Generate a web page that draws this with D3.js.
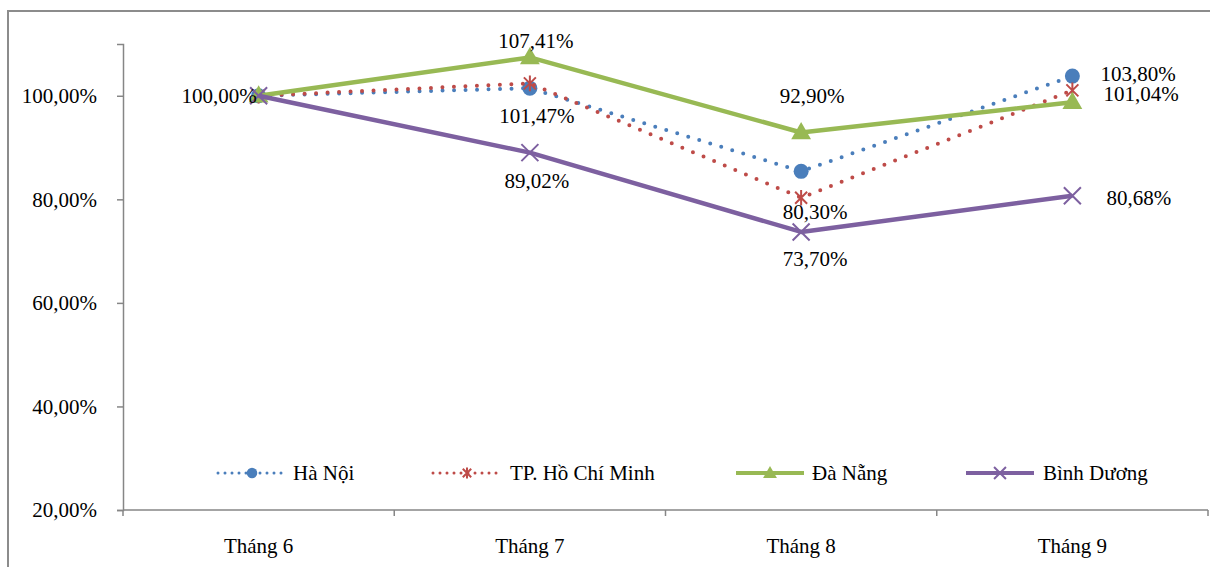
<!DOCTYPE html>
<html>
<head>
<meta charset="utf-8">
<script src="https://cdn.jsdelivr.net/npm/d3@7/dist/d3.min.js"></script>
<style>
  html, body { margin: 0; padding: 0; background: #fff; }
  svg { display: block; }
  text { font-family: "Liberation Serif", "Times New Roman", serif; fill: #000; }
</style>
</head>
<body>
<svg id="chart" width="1210" height="567"></svg>
<script>
// Months on the x axis
const months = ["Tháng 6", "Tháng 7", "Tháng 8", "Tháng 9"];

// Index values (%) per city
const haNoi     = [100.00, 101.47, 85.40, 103.80];
const tpHCM     = [100.00, 102.40, 80.30, 101.04];
const daNang    = [100.00, 107.41, 92.90, 98.75];
const binhDuong = [100.00, 89.02, 73.70, 80.68];

const seriesNames = ["Hà Nội", "TP. Hồ Chí Minh", "Đà Nẵng", "Bình Dương"];
const yTicks = [20, 40, 60, 80, 100];

const series = [
  { name: seriesNames[0], values: haNoi,     color: "#4a7ebb", dotted: true,  marker: "circle" },
  { name: seriesNames[1], values: tpHCM,     color: "#be4b48", dotted: true,  marker: "star" },
  { name: seriesNames[2], values: daNang,    color: "#98b954", dotted: false, marker: "triangle" },
  { name: seriesNames[3], values: binhDuong, color: "#7d60a0", dotted: false, marker: "cross" }
];

// Points that carry a value label; anchor and offset (px) from the point to the text baseline
const labels = [
  { s: 0, i: 0, anchor: "end",    dx: -2, dy: 7 },
  { s: 2, i: 1, anchor: "middle", dx: 6,  dy: -9 },
  { s: 0, i: 1, anchor: "middle", dx: 7,  dy: 35 },
  { s: 3, i: 1, anchor: "middle", dx: 7,  dy: 35.5 },
  { s: 2, i: 2, anchor: "middle", dx: 11, dy: -30 },
  { s: 1, i: 2, anchor: "middle", dx: 14, dy: 21 },
  { s: 3, i: 2, anchor: "middle", dx: 14, dy: 34 },
  { s: 0, i: 3, anchor: "start",  dx: 28, dy: 4.5 },
  { s: 1, i: 3, anchor: "start",  dx: 31, dy: 11 },
  { s: 3, i: 3, anchor: "start",  dx: 34, dy: 9 }
];

const locale = d3.formatLocale({ decimal: ",", thousands: ".", grouping: [3], currency: ["", ""] });
const pct = v => locale.format(".2f")(v) + "%";

const svg = d3.select("#chart");
const plot = { left: 123, right: 1208, top: 44, bottom: 510 };

// Outer chart frame
svg.append("rect")
  .attr("x", 8).attr("y", 11).attr("width", 1220).attr("height", 600)
  .attr("fill", "none").attr("stroke", "#8c8c8c").attr("stroke-width", 2);

const x = d3.scaleBand().domain(months).range([plot.left, plot.right]);
const y = d3.scaleLinear().domain([20, 110]).range([plot.bottom, plot.top]);
const cx = m => x(m) + x.bandwidth() / 2;

// Y axis
const yAxis = svg.append("g").attr("transform", `translate(${plot.left},0)`)
  .call(d3.axisLeft(y).tickValues(yTicks).tickSize(6).tickPadding(20).tickFormat(pct));
yAxis.attr("font-family", null);
yAxis.select(".domain").attr("stroke", "#868686").attr("stroke-width", 1.5);
yAxis.selectAll(".tick line").attr("stroke", "#868686").attr("stroke-width", 1.5);
yAxis.selectAll(".tick text").attr("font-size", 21);

// X axis: ticks sit between categories
const xAxisG = svg.append("g").attr("transform", `translate(0,${plot.bottom})`);
xAxisG.append("line").attr("x1", plot.left).attr("x2", plot.right)
  .attr("stroke", "#868686").attr("stroke-width", 1.5);
const boundaries = months.map(m => x(m)).concat([plot.right]);
xAxisG.selectAll("line.tk").data(boundaries).join("line").attr("class", "tk")
  .attr("x1", d => d).attr("x2", d => d).attr("y1", 0).attr("y2", 6)
  .attr("stroke", "#868686").attr("stroke-width", 1.5);
xAxisG.selectAll("text").data(months).join("text")
  .attr("x", d => cx(d)).attr("y", 43)
  .attr("text-anchor", "middle").attr("font-size", 21)
  .text(d => d);

// Marker drawing
function drawMarker(g, type, color, big) {
  const k = big ? 1 : 0.7;
  if (type === "circle") {
    g.append("circle").attr("r", 7.5 * k).attr("fill", color);
  } else if (type === "triangle") {
    g.append("path").attr("d", d3.symbol(d3.symbolTriangle, 170 * k * k)()).attr("fill", color)
      .attr("transform", "translate(0,1)");
  } else if (type === "cross") {
    const s = 8.5 * k;
    g.append("path").attr("d", `M${-s},${-s}L${s},${s}M${-s},${s}L${s},${-s}`)
      .attr("stroke", color).attr("stroke-width", 2).attr("fill", "none");
  } else if (type === "star") {
    const s = 6 * k;
    g.append("path")
      .attr("d", `M${-s},${-s}L${s},${s}M${-s},${s}L${s},${-s}M0,${-s * 1.3}L0,${s * 1.3}`)
      .attr("stroke", color).attr("stroke-width", 2).attr("fill", "none");
  }
}

const line = d3.line().x((d, i) => cx(months[i])).y(d => y(d));

series.forEach(s => {
  svg.append("path").datum(s.values)
    .attr("d", line).attr("fill", "none")
    .attr("stroke", s.color)
    .attr("stroke-width", s.dotted ? 4 : 4.5)
    .attr("stroke-linecap", s.dotted ? "round" : "butt")
    .attr("stroke-linejoin", "round")
    .attr("stroke-dasharray", s.dotted ? "0 11.5" : null);
  s.values.forEach((v, i) => {
    const g = svg.append("g").attr("transform", `translate(${cx(months[i])},${y(v)})`);
    drawMarker(g, s.marker, s.color, true);
  });
});

// Value labels
labels.forEach(l => {
  const v = series[l.s].values[l.i];
  svg.append("text")
    .attr("x", cx(months[l.i]) + l.dx)
    .attr("y", y(v) + l.dy)
    .attr("text-anchor", l.anchor)
    .attr("font-size", 21)
    .text(pct(v));
});

// Legend
const legendItems = [
  { lx: 218, tx: 293 },
  { lx: 433, tx: 510 },
  { lx: 736, tx: 812 },
  { lx: 966, tx: 1043 }
];
const ly = 473;
series.forEach((s, k) => {
  const it = legendItems[k];
  const g = svg.append("g");
  g.append("line").attr("x1", it.lx).attr("x2", it.lx + 68).attr("y1", ly).attr("y2", ly)
    .attr("stroke", s.color)
    .attr("stroke-width", s.dotted ? 3 : 4)
    .attr("stroke-linecap", s.dotted ? "round" : "butt")
    .attr("stroke-dasharray", s.dotted ? "0 7" : null);
  const mg = g.append("g").attr("transform", `translate(${it.lx + 34},${ly})`);
  drawMarker(mg, s.marker, s.color, false);
  g.append("text").attr("x", it.tx).attr("y", ly + 7).attr("font-size", 21).text(s.name);
});
</script>
</body>
</html>
